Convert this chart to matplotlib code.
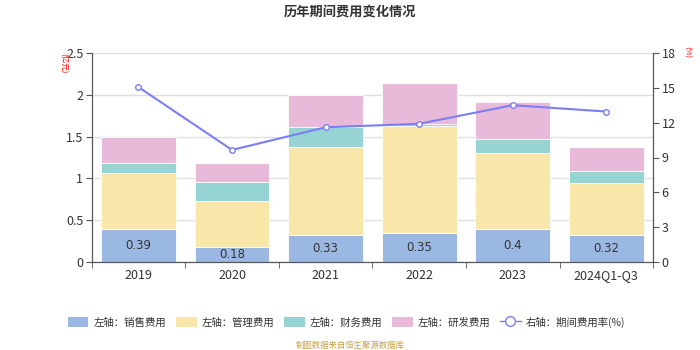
import matplotlib
matplotlib.use("Agg")
import matplotlib.pyplot as plt
from matplotlib.lines import Line2D
from matplotlib.patches import FancyBboxPatch

plt.rcParams["font.family"] = ["Noto Sans CJK SC", "DejaVu Sans"]

# -----------------------------------------------------------------------
# Data (亿元 / %)
# -----------------------------------------------------------------------
years = ["2019", "2020", "2021", "2022", "2023", "2024Q1-Q3"]
sales = [0.39, 0.18, 0.33, 0.35, 0.40, 0.32]
admin = [0.68, 0.55, 1.04, 1.28, 0.90, 0.62]
finance = [0.12, 0.23, 0.24, 0.02, 0.17, 0.15]
rnd = [0.30, 0.22, 0.39, 0.49, 0.44, 0.28]
rate = [15.05, 9.65, 11.6, 11.9, 13.5, 12.95]

series_names = ["左轴：销售费用", "左轴：管理费用", "左轴：财务费用", "左轴：研发费用"]
line_name = "右轴：期间费用率(%)"
colors = ["#9bb8e3", "#f8e7a9", "#96d4d4", "#e8b9d9"]
line_color = "#7b7ff5"

fig = plt.figure(figsize=(7, 3.5), dpi=100)
ax = fig.add_axes([0.131, 0.251, 0.802, 0.598])
ax2 = ax.twinx()

x = list(range(len(years)))
bottom = [0.0] * len(years)
for vals, c in zip([sales, admin, finance, rnd], colors):
    ax.bar(x, vals, width=0.8, bottom=bottom, color=c, edgecolor="#ffffff",
           linewidth=0.6, zorder=2)
    bottom = [b + v for b, v in zip(bottom, vals)]

for xi, v in zip(x, sales):
    ax.text(xi, v / 2, f"{v:g}", ha="center", va="center", fontsize=8.5,
            color="#333333", family=["DejaVu Sans"], zorder=3)

ax2.plot(x, rate, color=line_color, linewidth=1.5, marker="o", markersize=4,
         markerfacecolor="white", markeredgecolor=line_color,
         markeredgewidth=1, zorder=5)

ax.set_xlim(-0.5, len(years) - 0.5)
ax.set_ylim(0, 2.5)
ax.set_yticks([0, 0.5, 1, 1.5, 2, 2.5])
ax.set_yticklabels(["0", "0.5", "1", "1.5", "2", "2.5"])
ax2.set_ylim(0, 18)
ax2.set_yticks([0, 3, 6, 9, 12, 15, 18])

ax.set_xticks(x)
ax.set_xticklabels(years)
ax.set_xticks([i + 0.5 for i in range(-1, len(years))], minor=True)
ax.tick_params(axis="x", which="major", length=0, pad=5, labelsize=9,
               colors="#333333")
ax.tick_params(axis="x", which="minor", length=4, color="#555555")
ax.tick_params(axis="y", length=4, pad=2, labelsize=9, colors="#333333",
               color="#555555")
ax2.tick_params(axis="y", length=4, pad=2, labelsize=9, colors="#333333",
                color="#555555")

ax.yaxis.grid(True, color="#e0e0e0", linewidth=1, zorder=0)
ax.set_axisbelow(True)
for a in (ax, ax2):
    a.spines["top"].set_visible(False)
    for s in ("left", "right", "bottom"):
        a.spines[s].set_color("#555555")
ax.set_zorder(ax2.get_zorder() - 1)
ax.patch.set_visible(False)

fig.text(0.5, 0.965, "历年期间费用变化情况", ha="center", va="center",
         fontsize=9.5, fontweight="bold", color="#333333")
fig.text(0.091, 0.82, "(亿元)", rotation=270, ha="center", va="center",
         fontsize=5.5, color="#ff0000")
fig.text(0.981, 0.852, "(%)", rotation=270, ha="center", va="center",
         fontsize=5.5, color="#ff0000")

handles = [FancyBboxPatch((0, 0), 1, 1, boxstyle="round,pad=0.1",
                          facecolor=c, edgecolor="none") for c in colors]
handles.append(Line2D([0], [0], color=line_color, linewidth=1, marker="o",
                      markersize=7, markerfacecolor="white",
                      markeredgecolor=line_color))
fig.legend(handles, series_names + [line_name], loc="center",
           bbox_to_anchor=(0.495, 0.08), ncol=5, frameon=False, fontsize=7.5,
           handlelength=2.0, handleheight=1.05, columnspacing=0.9,
           handletextpad=0.5, labelcolor="#333333")

fig.text(0.5, 0.014, "制图数据来自恒生聚源数据库", ha="center", va="center",
         fontsize=6, color="#c8a04a")

fig.savefig("out.png", dpi=100)
